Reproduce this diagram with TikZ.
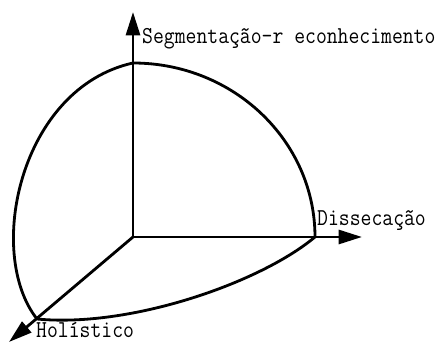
\documentclass[tikz,border=0pt]{standalone}
\usepackage{fontspec}
\usepackage{tikz}
\usetikzlibrary{arrows.meta, positioning, calc}
\definecolor{ink}{HTML}{000000}
\tikzset{
  >={Triangle[length=7mm,width=4.2mm]},
  axis/.style={->, line width=2.4pt, draw=ink},
  shell/.style={line width=2.4pt, draw=ink},
  lab/.style={font=\fontsize{18}{20}\selectfont\ttfamily, text=ink,
    inner sep=0pt, anchor=base west, yscale=1.15, transform shape}
}
\begin{document}
\begin{tikzpicture}[x=0.03cm, y=0.03cm]
  \useasboundingbox (0,0) rectangle (441,343);
  % origin and axis ends
  \coordinate (O) at (133,106);
  \coordinate (segend) at (133,331);
  \coordinate (disend) at (362,106);
  \coordinate (holend) at (9,1);
  % points where the shell meets the axes
  \coordinate (segcut) at (133,280);
  \coordinate (discut) at (315,106);
  \coordinate (holcut) at (37,24);
  % shell of the octant
  \draw[shell] (segcut) arc[start angle=90, end angle=0, x radius=182, y radius=174];
  \draw[shell] (segcut) .. controls (20,255) and (-15,90) .. (holcut);
  \draw[shell] (holcut) .. controls (130,15) and (260,60) .. (discut);
  % axes
  \draw[axis] (O) -- (segend);
  \draw[axis] (O) -- (disend);
  \draw[axis] (O) -- (holend);
  % labels
  \node[lab] (seg) at (142,299) {Segmentação-r econhecimento};
  \node[lab] (dis) at (317,117) {Dissecação};
  \node[lab] (hol) at (36,5) {Holístico};
\end{tikzpicture}
\end{document}
